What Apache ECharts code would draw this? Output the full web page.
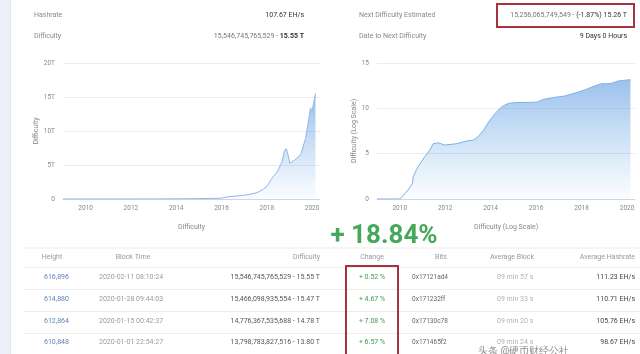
<!DOCTYPE html>
<html><head><meta charset="utf-8">
<script src="https://cdn.jsdelivr.net/npm/echarts@6/dist/echarts.min.js"></script>
<style>html,body{margin:0;padding:0;background:#fff}#c{width:640px;height:354px}</style>
</head><body><div id="c"></div>
<script>
// ---- data ----
const linYears = [2009.0, 2011.0, 2013.0, 2014.0, 2015.0, 2016.0, 2016.24, 2017.13, 2017.57, 2017.86, 2018.01, 2018.23, 2018.46, 2018.68, 2018.78, 2018.86, 2018.93, 2019.02, 2019.34, 2019.52, 2019.71, 2019.85, 2019.93, 2020.0, 2020.08, 2020.15];
const linDiffT = [0, 0, 0.01, 0.03, 0.05, 0.12, 0.3, 0.6, 0.93, 1.45, 1.9, 3.05, 4.0, 5.5, 7.1, 7.4, 6.6, 5.25, 6.0, 6.7, 8.9, 11.6, 13.4, 12.9, 13.1, 15.55];
const logYears = [2009.0, 2009.95, 2010.04, 2010.37, 2010.56, 2010.6, 2010.81, 2011.11, 2011.33, 2011.47, 2011.69, 2011.99, 2012.51, 2012.95, 2013.24, 2013.46, 2013.69, 2013.91, 2014.2, 2014.5, 2014.79, 2015.16, 2015.75, 2016.05, 2016.34, 2016.78, 2017.23, 2017.67, 2018.11, 2018.55, 2018.92, 2019.05, 2019.29, 2019.59, 2019.88, 2020.15];
const logDiff = [0, 0, 0.07, 1.0, 1.7, 2.5, 3.6, 4.7, 5.4, 6.1, 6.2, 5.95, 6.1, 6.4, 6.5, 6.9, 7.6, 8.5, 9.45, 10.2, 10.55, 10.65, 10.65, 10.7, 11.0, 11.2, 11.35, 11.65, 12.0, 12.45, 12.75, 12.7, 12.75, 13.0, 13.1, 13.15];
const yearTicks = [2010, 2012, 2014, 2016, 2018, 2020];
const linTicks = [0, 5, 10, 15, 20];
const logTicks = [0, 5, 10, 15];

const tblHeaders = ['Height', 'Block Time', 'Difficulty', 'Change', 'Bits', 'Average Block', 'Average Hashrate'];
const heights = ['616,896', '614,880', '612,864', '610,848'];
const blockTimes = ['2020-02-11 08:10:24', '2020-01-28 09:44:03', '2020-01-15 00:42:37', '2020-01-01 22:54:27'];
const difficulties = ['15,546,745,765,529 - 15.55 T', '15,466,098,935,554 - 15.47 T', '14,776,367,535,688 - 14.78 T', '13,798,783,827,516 - 13.80 T'];
const changes = ['+ 0.52 %', '+ 4.67 %', '+ 7.08 %', '+ 6.57 %'];
const bits = ['0x17121ad4', '0x171232ff', '0x17130c78', '0x171465f2'];
const avgBlocks = ['09 min 57 s', '09 min 33 s', '09 min 20 s', '09 min 24 s'];
const avgHashrates = ['111.23 EH/s', '110.71 EH/s', '105.76 EH/s', '98.67 EH/s'];

const FONT = 'Roboto, "Noto Sans", sans-serif';
const chart = echarts.init(document.getElementById('c'));

function txt(x, y, text, opt) {
  opt = opt || {};
  return { type: 'text', x: x, y: y, silent: true, z: 10,
    style: Object.assign({ text: text, fontFamily: FONT, fontSize: 7, fill: '#8a8a8a', align: 'left', verticalAlign: 'middle' }, opt) };
}
function hline(y) {
  return { type: 'line', silent: true, shape: { x1: 23, y1: y, x2: 640, y2: y }, style: { stroke: '#ececec', lineWidth: 1 } };
}

const graphics = [
  { type: 'rect', silent: true, z: -10, shape: { x: 0, y: 0, width: 10, height: 354 }, style: { fill: '#eef0f8' } },
  { type: 'line', silent: true, shape: { x1: 10.5, y1: 0, x2: 10.5, y2: 354 }, style: { stroke: '#e2e5ef', lineWidth: 1 } },
  txt(34, 15, 'Hashrate'),
  txt(304, 15, '107.67 EH/s', { align: 'right', fill: '#333' }),
  txt(34, 36, 'Difficulty'),
  { type: 'text', x: 304, y: 36, silent: true, style: { text: '{a|15,546,745,765,529 - }{b|15.55 T}', align: 'right', verticalAlign: 'middle',
      rich: { a: { fontFamily: FONT, fontSize: 7, fill: '#777' }, b: { fontFamily: FONT, fontSize: 7, fontWeight: 'bold', fill: '#333' } } } },
  txt(359, 15, 'Next Difficulty Estimated'),
  { type: 'text', x: 627, y: 15, silent: true, style: { text: '{a|15,256,065,749,549 - }{b|(-1.87%) 15.26 T}', align: 'right', verticalAlign: 'middle',
      rich: { a: { fontFamily: FONT, fontSize: 7, fill: '#777' }, b: { fontFamily: FONT, fontSize: 7, fill: '#333' } } } },
  { type: 'rect', silent: true, shape: { x: 497, y: 4, width: 137, height: 23 }, style: { fill: 'none', stroke: '#a8323e', lineWidth: 2 } },
  txt(359, 36, 'Date to Next Difficulty'),
  txt(627, 36, '9 Days 0 Hours', { align: 'right', fill: '#333' }),
  txt(384, 236, '+ 18.84%', { align: 'center', fontSize: 26, fontWeight: 'bold', fill: '#46a85a' }),
  hline(248), hline(267.5), hline(289.5), hline(311.5), hline(333.5)
];
const hx = [52, 133, 320, 372, 441, 512, 635];
const ha = ['center', 'center', 'right', 'center', 'center', 'center', 'right'];
tblHeaders.forEach((h, i) => graphics.push(txt(hx[i], 257, h, { align: ha[i], fill: '#999' })));
const rowY = [277, 299, 321, 342];
for (let r = 0; r < 4; r++) {
  const y = rowY[r];
  graphics.push(txt(44, y, heights[r], { fill: '#5b84bb' }));
  graphics.push(txt(99, y, blockTimes[r], { fill: '#9a9a9a' }));
  graphics.push(txt(320, y, difficulties[r], { align: 'right', fill: '#555' }));
  graphics.push(txt(372, y, changes[r], { align: 'center', fill: '#3f9a50' }));
  graphics.push(txt(412, y, bits[r], { fill: '#666', fontSize: 6.5 }));
  graphics.push(txt(497, y, avgBlocks[r], { fill: '#b0b0b0' }));
  graphics.push(txt(635, y, avgHashrates[r], { align: 'right', fill: '#444' }));
}
graphics.push({ type: 'rect', silent: true, shape: { x: 346, y: 266, width: 52, height: 95 }, style: { fill: 'none', stroke: '#a8323e', lineWidth: 2 } });
graphics.push(txt(478, 351, '头条 @硬币财经公社', { fontSize: 10, fill: '#555', opacity: 0.7 }));

function xAx(idx) {
  return { type: 'value', gridIndex: idx, min: 2009.0, max: 2020.35,
    name: idx === 0 ? 'Difficulty' : 'Difficulty (Log Scale)', nameLocation: 'middle', nameGap: 25,
    nameTextStyle: { fontFamily: FONT, fontSize: 7, color: '#888' },
    axisLine: { show: true, lineStyle: { color: '#ccd6eb' } },
    axisTick: { show: false }, splitLine: { show: false },
    axisLabel: { customValues: yearTicks, formatter: v => String(Math.round(v)), fontFamily: FONT, fontSize: 6.5, color: '#888', margin: 6 } };
}
function yAx(idx, max, ticks, fmt, name, gap) {
  return { type: 'value', gridIndex: idx, min: 0, max: max, interval: 5,
    name: name, nameLocation: 'middle', nameGap: gap, nameRotate: 90,
    nameTextStyle: { fontFamily: FONT, fontSize: 7, color: '#888' },
    axisLine: { show: false }, axisTick: { show: false },
    splitLine: { lineStyle: { color: '#ebebeb' } },
    axisLabel: { formatter: fmt, fontFamily: FONT, fontSize: 6.5, color: '#888', margin: 8 } };
}
function grad(top, bottom) {
  return new echarts.graphic.LinearGradient(0, 0, 0, 1, [{ offset: 0, color: top }, { offset: 1, color: bottom }]);
}

chart.setOption({
  animation: false,
  backgroundColor: '#fff',
  grid: [
    { left: 63, right: 320, top: 63, bottom: 155 },
    { left: 377, right: 5, top: 63, bottom: 155 }
  ],
  xAxis: [xAx(0), xAx(1)],
  yAxis: [
    yAx(0, 20, linTicks, v => v === 0 ? '0' : v + 'T', 'Difficulty', 22),
    yAx(1, 15, logTicks, v => String(v), 'Difficulty (Log Scale)', 18)
  ],
  series: [
    { type: 'line', xAxisIndex: 0, yAxisIndex: 0, showSymbol: false,
      data: linYears.map((x, i) => [x, linDiffT[i]]),
      lineStyle: { color: '#8db8e6', width: 1 },
      areaStyle: { color: grad('rgba(96,156,224,0.95)', 'rgba(124,181,236,0.05)') } },
    { type: 'line', xAxisIndex: 1, yAxisIndex: 1, showSymbol: false,
      data: logYears.map((x, i) => [x, logDiff[i]]),
      lineStyle: { color: '#7fb0e4', width: 1 },
      areaStyle: { color: grad('rgba(104,161,226,0.95)', 'rgba(124,181,236,0.04)') } }
  ],
  graphic: graphics
});
</script></body></html>
